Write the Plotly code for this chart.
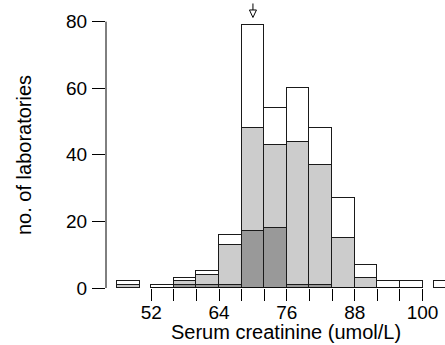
import plotly.graph_objects as go

# Histogram of serum creatinine results, 4 umol/L bins, three stacked groups
bin_centers = [48, 54, 58, 62, 66, 70, 74, 78, 82, 86, 90, 94, 98, 104]
dark_counts = [0, 0, 1, 1, 1, 17, 18, 1, 1, 0, 0, 0, 0, 0]
light_counts = [1, 0, 1, 3, 12, 31, 25, 43, 36, 15, 3, 0, 0, 0]
white_counts = [1, 1, 1, 1, 3, 31, 11, 16, 11, 12, 4, 2, 2, 2]
bin_width = 4

x_tick_vals = list(range(52, 101, 4))
x_tick_text = [str(v) if v in (52, 64, 76, 88, 100) else "" for v in x_tick_vals]
y_tick_vals = [0, 20, 40, 60, 80]
target_value = 70  # assigned value, marked with an arrow

family = "Liberation Sans, Arial, sans-serif"
tick_font = dict(family=family, size=19, color="black")
title_font = dict(family=family, size=20, color="black")
edge = dict(color="#1a1a1a", width=1)

fig = go.Figure()
for counts, fill in ((dark_counts, "#999999"), (light_counts, "#cccccc"), (white_counts, "#ffffff")):
    fig.add_trace(go.Bar(
        x=bin_centers, y=counts, width=bin_width,
        marker=dict(color=fill, line=edge),
        showlegend=False, hoverinfo="skip",
    ))

W, H = 445, 345
ml, mb = 106, 57
px_per_unit = 5.652
x_lo = 44
x_hi = x_lo + (W - ml) / px_per_unit
y_hi = 86.5
peak = max(w + l + d for w, l, d in zip(white_counts, light_counts, dark_counts))

fig.update_layout(
    width=W, height=H,
    margin=dict(l=ml, r=0, t=0, b=mb),
    barmode="stack", bargap=0,
    plot_bgcolor="white", paper_bgcolor="white",
    font=tick_font,
    xaxis=dict(range=[x_lo, x_hi], tickvals=x_tick_vals, ticktext=x_tick_text,
               ticks="outside", ticklen=12, tickwidth=1, tickcolor="black",
               showgrid=False, zeroline=False, showline=False,
               ticklabelstandoff=-5, tickfont=tick_font),
    yaxis=dict(range=[0, y_hi], tickvals=y_tick_vals,
               ticks="outside", ticklen=13, tickwidth=1, tickcolor="black",
               showgrid=False, zeroline=False, showline=False,
               ticklabelstandoff=1, tickfont=tick_font),
    shapes=[
        # x axis line spanning the labelled range
        dict(type="line", xref="x", yref="y", x0=x_tick_vals[0], x1=x_tick_vals[-1],
             y0=0, y1=0, line=dict(color="black", width=1)),
        # y axis line spanning the labelled range
        dict(type="line", xref="paper", yref="y", x0=0, x1=0,
             y0=y_tick_vals[0], y1=y_tick_vals[-1], line=dict(color="black", width=1)),
        # arrow shaft above the target bin
        dict(type="line", xref="x", yref="y", xsizemode="pixel", ysizemode="pixel",
             xanchor=target_value, yanchor=peak,
             x0=0, x1=0, y0=15, y1=21.5, line=dict(color="black", width=1)),
        # open arrow head
        dict(type="path", xref="x", yref="y", xsizemode="pixel", ysizemode="pixel",
             xanchor=target_value, yanchor=peak,
             path="M -3.5 15 L 3.5 15 L 0 7.5 Z",
             fillcolor="white", line=dict(color="black", width=1)),
    ],
    annotations=[
        dict(text="Serum creatinine (umol/L)", xref="paper", yref="paper",
             x=(286 - ml) / (W - ml), y=-(332 - (H - mb)) / (H - mb),
             xanchor="center", yanchor="middle", showarrow=False, font=title_font),
        dict(text="no. of laboratories", xref="paper", yref="paper",
             x=-(ml - 24) / (W - ml), y=1 - 155 / (H - mb),
             xanchor="center", yanchor="middle", textangle=-90, showarrow=False, font=title_font),
    ],
)

fig.write_html("out.html")
